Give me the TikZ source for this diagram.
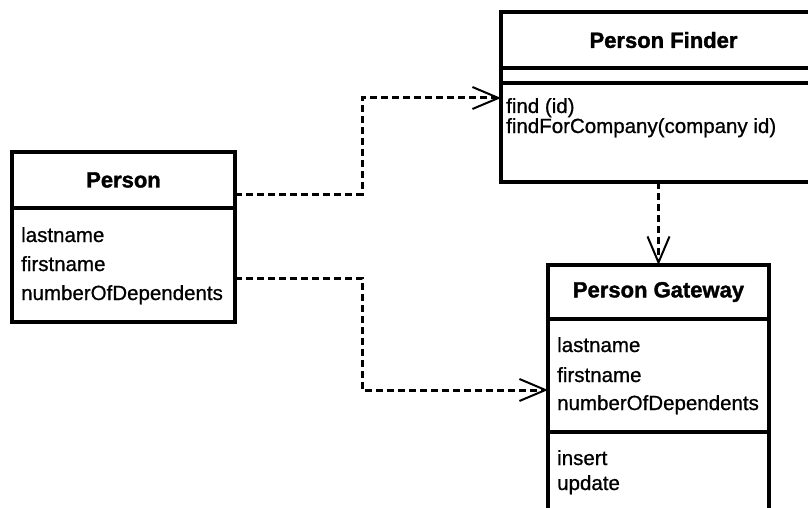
\documentclass[tikz,border=0pt]{standalone}
\usepackage{fontspec}
\setmainfont{Liberation Sans}
\newfontfamily\umlbody{Liberation Sans}[FakeBold=0.8]
\newfontfamily\umlhead{Liberation Sans Bold}[FakeBold=1.5]
\usetikzlibrary{arrows.meta}
\begin{document}
\begin{tikzpicture}[x=1pt,y=-1pt,
  compart/.style={draw=black, line width=3.5pt, rectangle, inner sep=0pt, outer sep=0pt},
  headtext/.style={font=\fontsize{22}{24}\selectfont\umlhead},
  attr/.style={anchor=base west, inner sep=0pt, font=\fontsize{20.5}{24}\selectfont\umlbody},
  dep/.style={draw=black, line width=3pt, dash pattern=on 7pt off 4pt,
    -{Straight Barb[length=26pt,width=22pt,line width=2pt]}}]
\fill[white] (0,0) rectangle (808,508);
\useasboundingbox (0,0) rectangle (808,508);
\clip (0,0) rectangle (808,508);

% Person class
\node[compart, headtext, minimum width=223pt, minimum height=56pt] (personhead) at (123.5,180) {Person};
\node[compart, minimum width=223pt, minimum height=114pt] (personbody) at (123.5,265) {};
\node[attr] (pattr1) at (21,242) {lastname};
\node[attr] (pattr2) at (21,271) {firstname};
\node[attr] (pattr3) at (21,300) {numberOfDependents};

% Person Finder class
\node[compart, headtext, minimum width=325pt, minimum height=56pt] (finderhead) at (663.5,40) {Person Finder};
\node[compart, minimum width=325pt, minimum height=15pt] (finderattr) at (663.5,75.5) {};
\node[compart, minimum width=325pt, minimum height=99pt] (finderops) at (663.5,132.5) {};
\node[attr] (fop1) at (506,113) {find (id)};
\node[attr] (fop2) at (506,133) {findForCompany(company id)};

% Person Gateway class
\node[compart, headtext, minimum width=221pt, minimum height=54pt] (gwhead) at (658.5,292) {Person Gateway};
\node[compart, minimum width=221pt, minimum height=113pt] (gwattr) at (658.5,375.5) {};
\node[compart, minimum width=221pt, minimum height=110pt] (gwops) at (658.5,487) {};
\node[attr] (gattr1) at (557,352) {lastname};
\node[attr] (gattr2) at (557,382) {firstname};
\node[attr] (gattr3) at (557,410) {numberOfDependents};
\node[attr] (gop1) at (557,465) {insert};
\node[attr] (gop2) at (557,490) {update};

% Dependencies
\draw[dep] ([yshift=-14pt]personhead.east) -- ++(127,0) |- ([yshift=34.5pt]finderops.west);
\draw[dep] ([yshift=-13pt]personbody.east) -- ++(127,0) |- ([yshift=-14.5pt]gwattr.west);
\draw[dep] (gwhead.north |- finderops.south) -- (gwhead.north);
\end{tikzpicture}
\end{document}
